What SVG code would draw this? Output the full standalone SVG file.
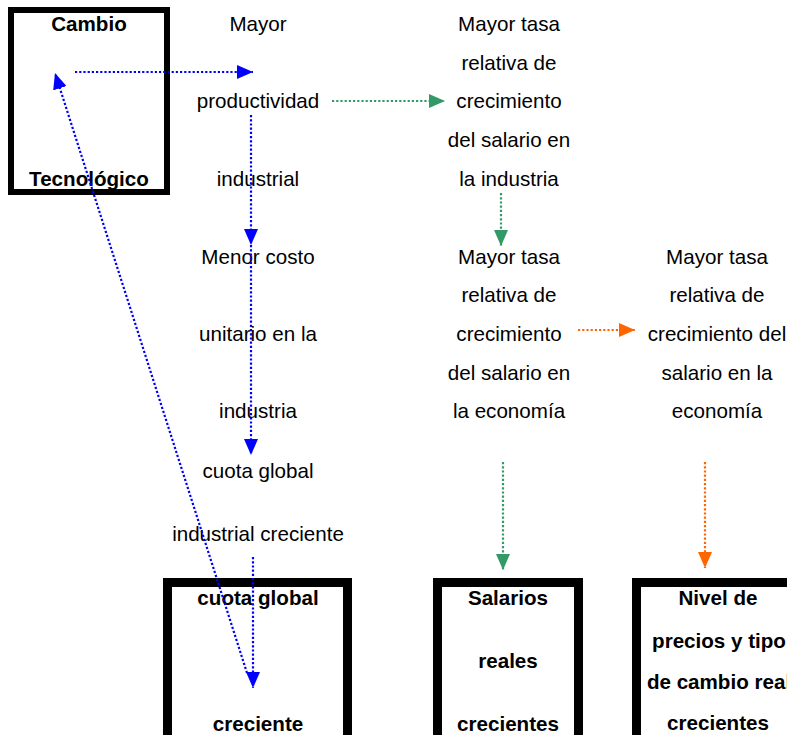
<svg xmlns="http://www.w3.org/2000/svg" width="787" height="735" viewBox="0 0 787 735">
<defs>
<style>
text{font-family:"Liberation Sans",Arial,sans-serif;font-size:20.6px;fill:#000;text-anchor:middle}
.b{font-weight:bold}
.box{fill:#fff;stroke:#000}
.c{fill:none;stroke-width:2.2;stroke-dasharray:2.2 2}
.blue{stroke:#0000FF}
.green{stroke:#339966}
.orange{stroke:#FF6600}
</style>
<marker id="ab" markerUnits="userSpaceOnUse" markerWidth="16" markerHeight="14" refX="16" refY="7" orient="auto"><path d="M0,0 L16,7 L0,14 z" fill="#0000FF"/></marker>
<marker id="ag" markerUnits="userSpaceOnUse" markerWidth="16" markerHeight="14" refX="16" refY="7" orient="auto"><path d="M0,0 L16,7 L0,14 z" fill="#339966"/></marker>
<marker id="ao" markerUnits="userSpaceOnUse" markerWidth="16" markerHeight="14" refX="16" refY="7" orient="auto"><path d="M0,0 L16,7 L0,14 z" fill="#FF6600"/></marker>
</defs>
<rect width="787" height="735" fill="#fff"/>
<g id="cambio">
<rect class="box" x="11" y="10" width="156" height="182" stroke-width="6"/>
<text class="b" x="89" y="31">Cambio</text>
<text class="b" x="89" y="186">Tecnológico</text>
</g>
<g id="col2">
<text x="258" y="31">Mayor</text>
<text x="258" y="108">productividad</text>
<text x="258" y="186">industrial</text>
</g>
<g id="col2b">
<text x="258" y="264">Menor costo</text>
<text x="258" y="341">unitario en la</text>
<text x="258" y="418">industria</text>
</g>
<g id="col2c">
<text x="258" y="478">cuota global</text>
<text x="258" y="541">industrial creciente</text>
</g>
<g id="col3a">
<text x="509" y="31">Mayor tasa</text>
<text x="509" y="70">relativa de</text>
<text x="509" y="108">crecimiento</text>
<text x="509" y="147">del salario en</text>
<text x="509" y="186">la industria</text>
</g>
<g id="col3b">
<text x="509" y="264">Mayor tasa</text>
<text x="509" y="302">relativa de</text>
<text x="509" y="341">crecimiento</text>
<text x="509" y="380">del salario en</text>
<text x="509" y="418">la economía</text>
</g>
<g id="col4">
<text x="717" y="264">Mayor tasa</text>
<text x="717" y="302">relativa de</text>
<text x="717" y="341">crecimiento del</text>
<text x="717" y="380">salario en la</text>
<text x="717" y="418">economía</text>
</g>
<g id="cuota">
<rect class="box" x="167.5" y="582.5" width="180" height="160" stroke-width="9"/>
<text class="b" x="258" y="605">cuota global</text>
<text class="b" x="258" y="731">creciente</text>
</g>
<g id="salarios">
<rect class="box" x="437.5" y="582.5" width="141" height="160" stroke-width="9"/>
<text class="b" x="508" y="605">Salarios</text>
<text class="b" x="508" y="668">reales</text>
<text class="b" x="508" y="731">crecientes</text>
</g>
<g id="nivel">
<rect class="box" x="636.5" y="582.5" width="170" height="160" stroke-width="9"/>
<text class="b" x="718" y="605">Nivel de</text>
<text class="b" x="719" y="648">precios y tipo</text>
<text class="b" x="719" y="689">de cambio real</text>
<text class="b" x="718" y="730">crecientes</text>
</g>
<g id="connectors">
<path class="c blue" d="M75,72 H253" marker-end="url(#ab)"/>
<path class="c blue" d="M251,115 V245" marker-end="url(#ab)"/>
<path class="c blue" d="M251,245 V455" marker-end="url(#ab)"/>
<path class="c blue" d="M253,557 V688" marker-end="url(#ab)"/>
<path class="c blue" d="M247,673 L55,73" marker-end="url(#ab)"/>
<path class="c green" d="M332,101 H445" marker-end="url(#ag)"/>
<path class="c green" d="M501,193 V246" marker-end="url(#ag)"/>
<path class="c green" d="M503,462 V570" marker-end="url(#ag)"/>
<path class="c orange" d="M578,330 H635" marker-end="url(#ao)"/>
<path class="c orange" d="M705,462 V568" marker-end="url(#ao)"/>
</g>
</svg>
